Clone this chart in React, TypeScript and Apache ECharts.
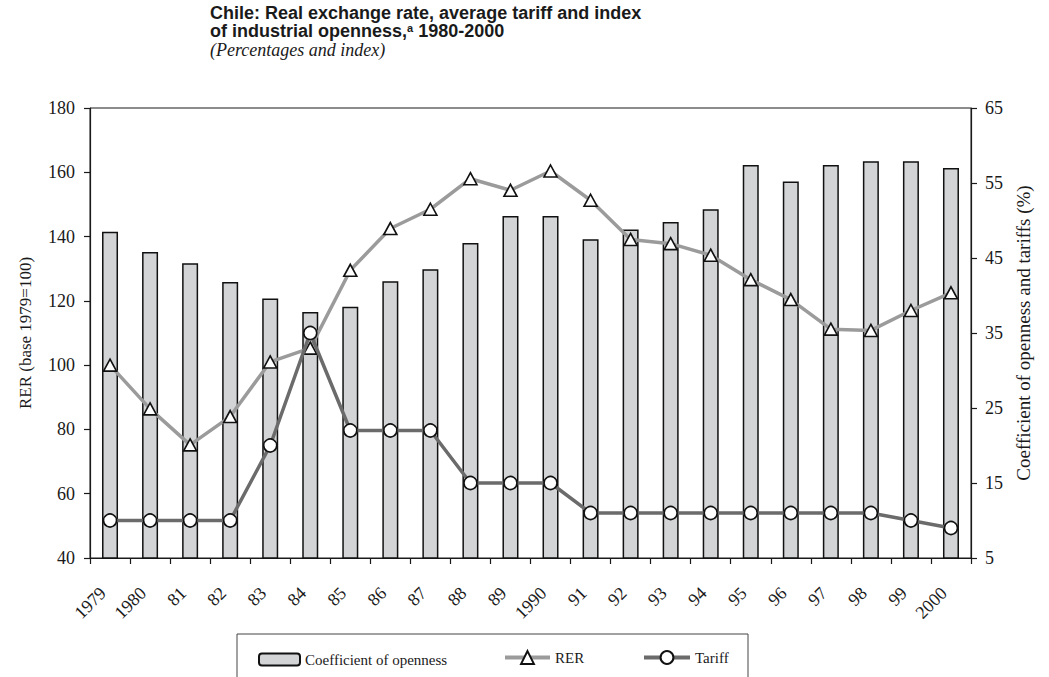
import React, { useEffect, useRef } from "react";
import * as echarts from "echarts";

// Years on the category axis
const years = [
  "1979", "1980", "81", "82", "83", "84", "85", "86", "87", "88", "89",
  "1990", "91", "92", "93", "94", "95", "96", "97", "98", "99", "2000",
];

// Coefficient of industrial openness (%), right axis
const openness = [
  48.5, 45.8, 44.3, 41.8, 39.6, 37.8, 38.5, 41.9, 43.5, 47.0, 50.6,
  50.6, 47.5, 48.8, 49.8, 51.5, 57.4, 55.2, 57.4, 57.9, 57.9, 57.0,
];

// Real exchange rate index (1979 = 100), left axis
const rer = [
  100, 86.4, 75.2, 84, 101, 105.3, 129.5, 142.5, 148.5, 158, 154.4,
  160.4, 151.3, 139.1, 137.8, 134.2, 126.6, 120.4, 111.2, 110.8, 117, 122.5,
];

// Average tariff (%), right axis
const tariff = [
  10, 10, 10, 10, 20, 35, 22, 22, 22, 15, 15,
  15, 11, 11, 11, 11, 11, 11, 11, 11, 10, 9,
];

const SERIF = "'Liberation Serif', 'Times New Roman', serif";
const SANS = "'Liberation Sans', Arial, sans-serif";
const INK = "#1a1a1a";

export default function App() {
  const ref = useRef<HTMLDivElement>(null);

  useEffect(() => {
    if (!ref.current) return;
    const chart = echarts.init(ref.current, null, { renderer: "svg" });

    const legendText = { fontFamily: SERIF, fontSize: 15, color: INK };
    const titleStyle = {
      fontFamily: SANS,
      fontWeight: "bold",
      fontSize: 18,
      lineHeight: 18,
      color: INK,
      rich: {
        sup: {
          fontFamily: SANS,
          fontWeight: "bold",
          fontSize: 11,
          lineHeight: 11,
          verticalAlign: "top",
          color: INK,
        },
      },
    };

    chart.setOption({
      animation: false,
      backgroundColor: "#ffffff",
      title: [
        {
          text: "Chile: Real exchange rate, average tariff and index",
          left: 210,
          top: 4,
          padding: 0,
          textStyle: titleStyle,
        },
        {
          text: "of industrial openness,{sup|a} 1980-2000",
          left: 210,
          top: 22,
          padding: 0,
          textStyle: titleStyle,
        },
        {
          text: "(Percentages and index)",
          left: 210,
          top: 41,
          padding: 0,
          textStyle: {
            fontFamily: SERIF,
            fontStyle: "italic",
            fontWeight: "normal",
            fontSize: 18,
            lineHeight: 18,
            color: INK,
          },
        },
      ],
      legend: [
        {
          data: ["Coefficient of openness"],
          left: 258,
          top: 652,
          padding: 0,
          itemWidth: 41,
          itemHeight: 12,
          itemGap: 5,
          textStyle: legendText,
        },
        {
          data: ["RER"],
          left: 503,
          top: 650,
          padding: 0,
          itemWidth: 45,
          itemHeight: 16,
          itemGap: 3,
          lineStyle: { width: 4 },
          textStyle: legendText,
        },
        {
          data: ["Tariff"],
          left: 642,
          top: 650,
          padding: 0,
          itemWidth: 46,
          itemHeight: 16,
          itemGap: 3,
          lineStyle: { width: 4 },
          textStyle: legendText,
        },
      ],
      graphic: [
        {
          type: "rect",
          shape: { x: 237, y: 634, width: 511, height: 70 },
          style: { fill: "none", stroke: "#444", lineWidth: 1 },
          silent: true,
        },
      ],
      grid: {
        left: 90,
        right: 78,
        top: 108,
        bottom: 119,
        show: true,
        borderColor: INK,
        borderWidth: 1,
        backgroundColor: "transparent",
      },
      xAxis: {
        type: "category",
        data: years,
        boundaryGap: true,
        axisLine: { lineStyle: { color: INK, width: 1.2 } },
        axisTick: { show: true, length: 6, lineStyle: { color: INK, width: 1.2 } },
        axisLabel: {
          rotate: 45,
          interval: 0,
          margin: 25,
          padding: [0, 10, 0, 0],
          fontFamily: SERIF,
          fontSize: 18,
          color: INK,
        },
        splitLine: { show: false },
      },
      yAxis: [
        {
          type: "value",
          position: "left",
          min: 40,
          max: 180,
          interval: 20,
          name: "RER (base 1979=100)",
          nameLocation: "middle",
          nameRotate: 90,
          nameGap: 56,
          nameTextStyle: { fontFamily: SERIF, fontSize: 17, color: INK },
          axisLine: { show: true, lineStyle: { color: INK, width: 1.2 } },
          axisTick: { show: true, length: 6, lineStyle: { color: INK, width: 1.2 } },
          axisLabel: { margin: 15, fontFamily: SERIF, fontSize: 18, color: INK },
          splitLine: { show: false },
        },
        {
          type: "value",
          position: "right",
          min: 5,
          max: 65,
          interval: 10,
          name: "Coefficient of openness and tariffs (%)",
          nameLocation: "middle",
          nameRotate: 90,
          nameGap: 42,
          nameTextStyle: { fontFamily: SERIF, fontSize: 19, color: INK },
          axisLine: { show: true, lineStyle: { color: INK, width: 1.2 } },
          axisTick: { show: true, length: 6, lineStyle: { color: INK, width: 1.2 } },
          axisLabel: { margin: 14, fontFamily: SERIF, fontSize: 18, color: INK },
          splitLine: { show: false },
        },
      ],
      series: [
        {
          name: "Coefficient of openness",
          type: "bar",
          yAxisIndex: 1,
          data: openness,
          barWidth: 16,
          itemStyle: { color: "#d3d4d6", borderColor: "#111", borderWidth: 1.5 },
          z: 2,
        },
        {
          name: "RER",
          type: "line",
          yAxisIndex: 0,
          data: rer,
          symbol: "triangle",
          symbolSize: [13, 12],
          showAllSymbol: true,
          lineStyle: { color: "#9b9b9b", width: 3.5 },
          itemStyle: { color: "#ffffff", borderColor: "#111", borderWidth: 1.6 },
          z: 3,
        },
        {
          name: "Tariff",
          type: "line",
          yAxisIndex: 1,
          data: tariff,
          symbol: "circle",
          symbolSize: 13,
          showAllSymbol: true,
          lineStyle: { color: "#6b6b6b", width: 3.5 },
          itemStyle: { color: "#ffffff", borderColor: "#111", borderWidth: 1.6 },
          z: 4,
        },
      ],
    });

    return () => chart.dispose();
  }, []);

  return <div ref={ref} style={{ width: 1049, height: 677, position: "absolute", left: 0, top: 0 }} />;
}
